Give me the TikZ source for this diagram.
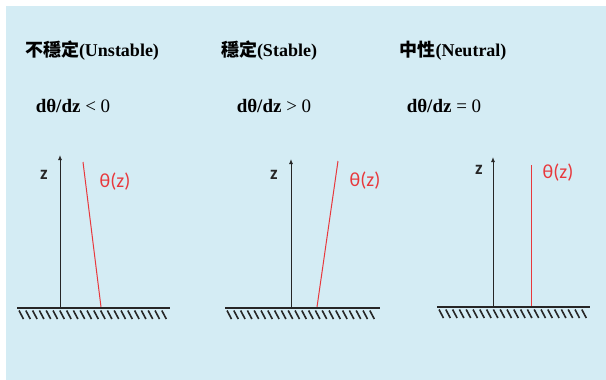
\documentclass[tikz,border=0pt]{standalone}
\usepackage{fontspec}
\setmainfont{Liberation Serif}
\newfontfamily\cjk{Noto Sans CJK TC}
\newfontfamily\calib{Carlito}
\usepackage{tikz}
\usetikzlibrary{arrows.meta}

\definecolor{bgblue}{RGB}{212,236,244}
\definecolor{profred}{RGB}{232,56,60}

\begin{document}
\begin{tikzpicture}[
  x=1pt, y=-1pt,
  title/.style={font=\fontsize{18}{22}\selectfont\bfseries, inner sep=0pt},
  grad/.style={font=\fontsize{19}{22}\selectfont, inner sep=0pt},
  axis/.style={-{Latex[length=5pt,width=4pt]}, line width=1pt, black!85},
  prof/.style={line width=1pt, profred},
  zlab/.style={font=\calib\fontsize{19}{22}\selectfont\bfseries, black!85, inner sep=0pt},
  thlab/.style={font=\calib\fontsize{20}{22}\selectfont, profred, inner sep=0pt},
  ground/.style={line width=1.4pt, black!85},
  hatch/.style={line width=1.6pt, black!85}
]
\useasboundingbox (0,0) rectangle (606,380);
\fill[white] (0,0) rectangle (606,380);
\fill[bgblue] (6,6) rectangle (606,380);

% headings
\node[title] (head1) at (92,51) {{\cjk 不穩定}(Unstable)};
\node[title] (head2) at (269,51) {{\cjk 穩定}(Stable)};
\node[title] (head3) at (453,51) {{\cjk 中性}(Neutral)};
\node[grad] (grad1) at (73,106) {\textbf{dθ/dz} < 0};
\node[grad] (grad2) at (274,106) {\textbf{dθ/dz} > 0};
\node[grad] (grad3) at (444,106) {\textbf{dθ/dz} = 0};

% unstable
\coordinate (gl1) at (17,308);
\coordinate (gr1) at (170,308);
\coordinate (o1) at (60,307);
\coordinate (t1) at (60,155);
\coordinate (pb1) at (101,307);
\coordinate (pt1) at (83,162);
\draw[axis] (o1) -- (t1);
\draw[prof] (pb1) -- (pt1);
\node[zlab] (z1) at (44,175) {z};
\node[thlab] (th1) at (115,182) {θ(z)};
\draw[ground] (gl1) -- (gr1);
\foreach \k in {0,...,21}
  \draw[hatch] (gl1) ++(\k*6.8+2,2.5) -- ++(4.5,8.5);

% stable
\coordinate (gl2) at (225,308);
\coordinate (gr2) at (380,308);
\coordinate (o2) at (291,307);
\coordinate (t2) at (291,159);
\coordinate (pb2) at (317,307);
\coordinate (pt2) at (338,161);
\draw[axis] (o2) -- (t2);
\draw[prof] (pb2) -- (pt2);
\node[zlab] (z2) at (274,175) {z};
\node[thlab] (th2) at (365,181) {θ(z)};
\draw[ground] (gl2) -- (gr2);
\foreach \k in {0,...,21}
  \draw[hatch] (gl2) ++(\k*6.8+2,2.5) -- ++(4.5,8.5);

% neutral
\coordinate (gl3) at (437,307);
\coordinate (gr3) at (590,307);
\coordinate (o3) at (493,306);
\coordinate (t3) at (493,157);
\coordinate (pb3) at (531,306);
\coordinate (pt3) at (531,165);
\draw[axis] (o3) -- (t3);
\draw[prof] (pb3) -- (pt3);
\node[zlab] (z3) at (479,170) {z};
\node[thlab] (th3) at (558,173) {θ(z)};
\draw[ground] (gl3) -- (gr3);
\foreach \k in {0,...,21}
  \draw[hatch] (gl3) ++(\k*6.8+2,2.5) -- ++(4.5,8.5);
\end{tikzpicture}
\end{document}
